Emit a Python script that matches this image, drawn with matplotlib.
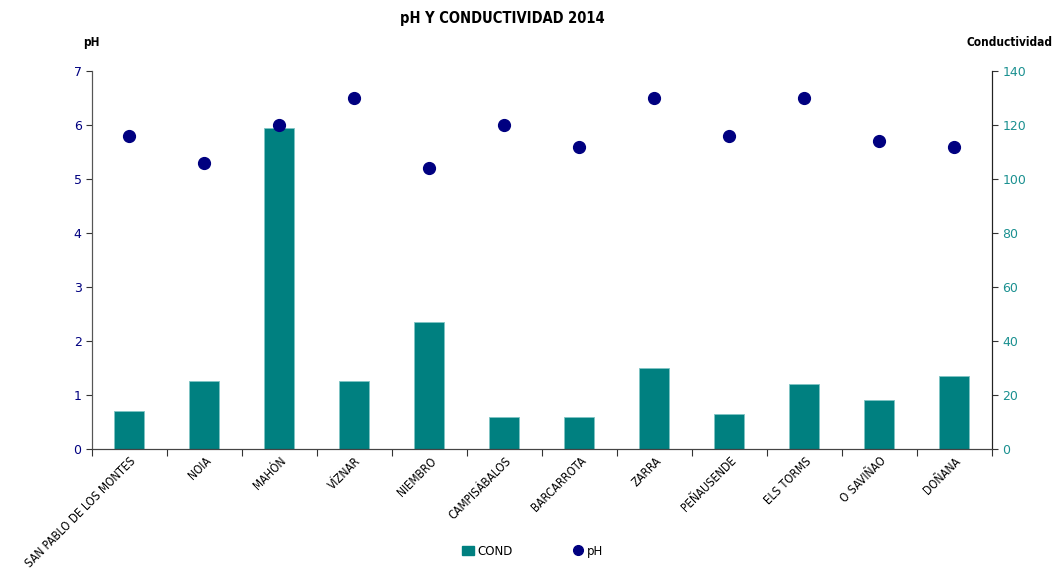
import numpy as np
import matplotlib.pyplot as plt
from matplotlib.lines import Line2D
from matplotlib.patches import Patch

# Datos
estaciones = ['SAN PABLO DE LOS MONTES', 'NOIA', 'MAHÓN', 'VÍZNAR', 'NIEMBRO',
              'CAMPISÁBALOS', 'BARCARROTA', 'ZARRA', 'PEÑAUSENDE', 'ELS TORMS',
              'O SAVIÑAO', 'DOÑANA']
cond = [14, 25, 119, 25, 47, 12, 12, 30, 13, 24, 18, 27]
ph = [5.8, 5.3, 6.0, 6.5, 5.2, 6.0, 5.6, 6.5, 5.8, 6.5, 5.7, 5.6]
ticks_ph = [0, 1, 2, 3, 4, 5, 6, 7]
ticks_cond = [0, 20, 40, 60, 80, 100, 120, 140]

TEAL = '#008080'
NAVY = '#000080'

fig = plt.figure(figsize=(10.55, 5.71), dpi=100)
ax = fig.add_axes([0.0872, 0.2137, 0.853, 0.662])
ax2 = ax.twinx()

x = np.arange(len(estaciones))
# Barras de conductividad en el eje derecho
ax2.bar(x, cond, width=0.4, color=TEAL, edgecolor='#7fc4c4', linewidth=0.6, zorder=2)
# Puntos de pH en el eje izquierdo
ax.plot(x, ph, 'o', color=NAVY, markersize=8.5, zorder=3)
ax.set_zorder(ax2.get_zorder() + 1)
ax.patch.set_visible(False)

ax.set_xlim(-0.5, len(estaciones) - 0.5)
ax.set_ylim(0, 7)
ax2.set_ylim(0, 140)
ax.set_yticks(ticks_ph)
ax2.set_yticks(ticks_cond)

ax.tick_params(axis='y', colors='#333333', labelcolor=NAVY, labelsize=9, length=4, direction='out')
ax2.tick_params(axis='y', colors='#333333', labelcolor='#1a9090', labelsize=9, length=4, direction='out')

# Marcas del eje x entre categorías
ax.set_xticks(np.arange(-0.5, len(estaciones)), minor=False)
ax.set_xticklabels([])
ax.tick_params(axis='x', length=5, color='#333333')
ax.set_xticks(x, minor=True)
ax.set_xticklabels(estaciones, minor=True, rotation=45, ha='right', rotation_mode='anchor',
                   fontsize=8.5, fontstretch='condensed')
ax.tick_params(axis='x', which='minor', length=0, pad=4)

for a in (ax, ax2):
    a.spines['top'].set_visible(False)
    a.spines['left'].set_color('#555555')
    a.spines['right'].set_color('#222222')
    a.spines['bottom'].set_color('#444444')

fig.text(0.476, 0.967, 'pH Y CONDUCTIVIDAD 2014', ha='center', va='center',
         fontsize=10.5, fontweight='bold', fontstretch='condensed')
fig.text(0.087, 0.926, 'pH', ha='center', va='center', fontsize=8.5,
         fontweight='bold', fontstretch='condensed')
fig.text(0.998, 0.926, 'Conductividad', ha='right', va='center', fontsize=8.5,
         fontweight='bold', fontstretch='condensed')

# Leyenda
handles = [Patch(facecolor=TEAL, edgecolor=TEAL),
           Line2D([], [], marker='o', linestyle='', color=NAVY, markersize=7)]
fig.legend(handles, ['COND', 'pH'], loc='center', bbox_to_anchor=(0.505, 0.035),
           ncol=2, frameon=False, fontsize=8.5, handlelength=1.0, handletextpad=0.3,
           columnspacing=5)

fig.savefig('out.png', dpi=100)
